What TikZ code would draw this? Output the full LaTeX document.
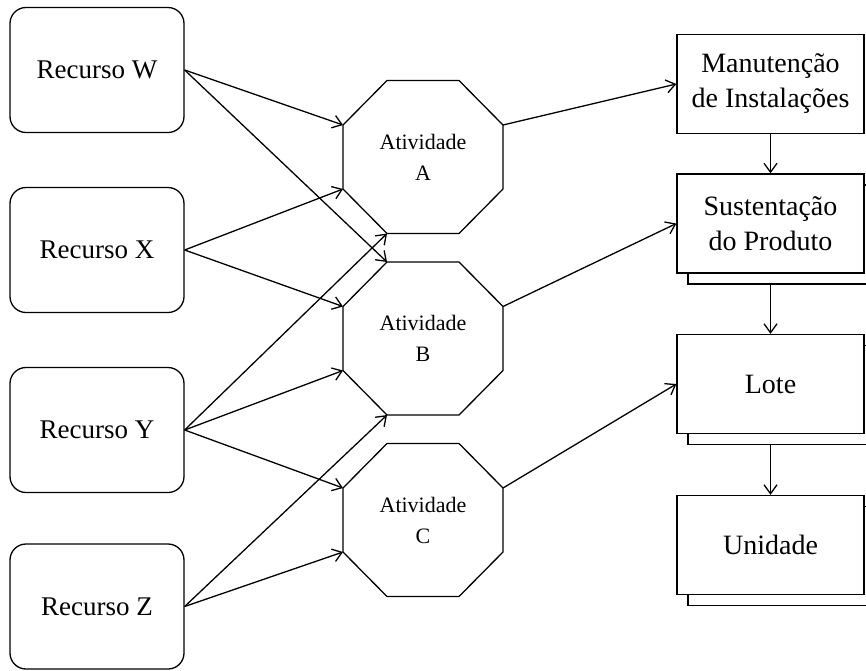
\documentclass[tikz,border=0pt]{standalone}
\usepackage{fontspec}
\setmainfont{Liberation Serif}
\usetikzlibrary{arrows.meta,shadows}
\newcommand\octshape[1]{\draw (#1.center) ++(-36,-76.5) coordinate (#1-tl) -- ++(72,0) coordinate (#1-tr) -- ++(44,44.5) coordinate (#1-ru) -- ++(0,64) coordinate (#1-rl) -- ++(-44,44.5) coordinate (#1-br) -- ++(-72,0) coordinate (#1-bl) -- ++(-44,-44.5) coordinate (#1-ll) -- ++(0,-64) coordinate (#1-lu) -- cycle;}
\begin{document}
\begin{tikzpicture}[x=1pt,y=-1pt,line width=1.3pt,
  res/.style={draw, rounded corners=16pt, minimum width=174pt, minimum height=125pt, font=\fontsize{27}{33}\selectfont, inner sep=0pt},
  act/.style={align=center, font=\fontsize{22}{31}\selectfont, inner sep=0pt},
  lvl/.style={draw, fill=white, minimum width=187pt, minimum height=99pt, align=center, font=\fontsize{28}{35}\selectfont, inner sep=0pt},
  lvlsh/.style={lvl, copy shadow={shadow xshift=11pt, shadow yshift=-11pt}},
  arr/.style={-{Straight Barb[length=9pt,width=13pt]}},
]
\clip (0,0) rectangle (866,670);
\fill[white] (0,0) rectangle (866,670);

\node[res] (W) at (97,70) {Recurso W};
\node[res] (X) at (97,250) {Recurso X};
\node[res] (Y) at (97,430) {Recurso Y};
\node[res] (Z) at (97,606.5) {Recurso Z};

\node[act] (A) at (423,157) {Atividade\\A};
\node[act] (B) at (423,338.5) {Atividade\\B};
\node[act] (C) at (423,520) {Atividade\\C};
\octshape{A}
\octshape{B}
\octshape{C}

\node[lvl] (M) at (770.5,84) {Manutenção\\de Instalações};
\node[lvlsh] (S) at (770.5,223.5) {Sustentação\\do Produto};
\node[lvlsh] (L) at (770.5,384) {Lote};
\node[lvlsh] (U) at (770.5,545) {Unidade};

\draw[arr] (W.east) -- (A-lu);
\draw[arr] (W.east) -- (B-tl);
\draw[arr] (X.east) -- (A-ll);
\draw[arr] (X.east) -- (B-lu);
\draw[arr] (Y.east) -- (A-bl);
\draw[arr] (Y.east) -- (B-ll);
\draw[arr] (Y.east) -- (C-lu);
\draw[arr] (Z.east) -- (B-bl);
\draw[arr] (Z.east) -- (C-ll);

\draw[arr] (A-ru) -- (M.west);
\draw[arr] (B-ru) -- (S.west);
\draw[arr] (C-ru) -- (L.west);

\draw[arr] (M.south) -- (S.north);
\draw[arr] ([yshift=-11pt]S.south) -- (L.north);
\draw[arr] ([yshift=-11pt]L.south) -- (U.north);
\end{tikzpicture}
\end{document}
